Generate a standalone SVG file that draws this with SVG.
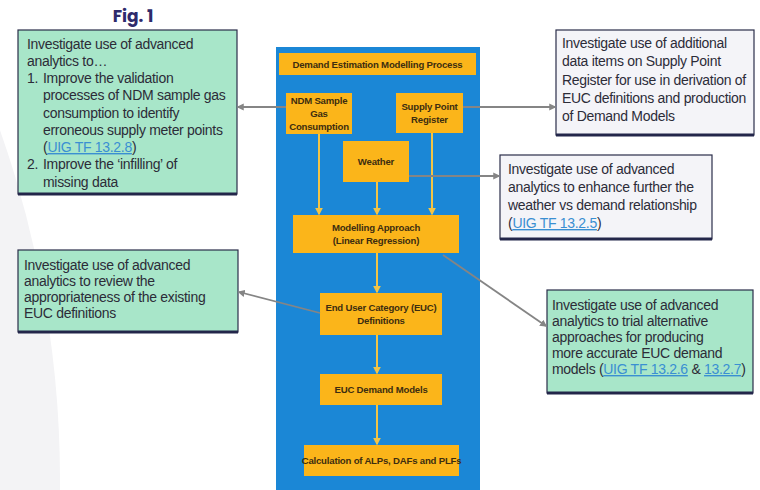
<svg xmlns="http://www.w3.org/2000/svg" width="760" height="490" viewBox="0 0 760 490">
<defs>
<style>
.note{font-family:"Liberation Sans",Arial,sans-serif;font-size:14px;fill:#2c2c38;letter-spacing:-0.3px}
.link{fill:#3a8fd2;text-decoration:underline}
.ob{fill:#fbb51a}
.ot{font-family:"Liberation Sans",Arial,sans-serif;font-size:9.6px;font-weight:bold;fill:#3d2d10;text-anchor:middle;letter-spacing:-0.2px}
.green{fill:#a8e6c9;stroke:#2a2d4a;stroke-width:1.2}
.grey{fill:#f4f4f8;stroke:#2a2d4a;stroke-width:1.2}
.base{stroke:#23264a;stroke-width:3}
.gl{stroke:#858585;stroke-width:1.8;fill:none;marker-end:url(#ga)}
.yl{stroke:#f3c445;stroke-width:2;fill:none;marker-end:url(#ya)}
</style>
<marker id="ga" viewBox="0 0 10 10" refX="8" refY="5" markerWidth="4" markerHeight="4" orient="auto"><path d="M0,0L10,5L0,10z" fill="#858585"/></marker>
<marker id="ya" viewBox="0 0 10 10" refX="8" refY="5" markerWidth="4" markerHeight="4" orient="auto"><path d="M0,0L10,5L0,10z" fill="#f3c445"/></marker>
</defs>
<rect width="760" height="490" fill="#ffffff"/>
<circle cx="-990" cy="480" r="1050" fill="#f3f3f5"/>
<text x="133" y="22" text-anchor="middle" font-family="Poppins,'Liberation Sans',Arial,sans-serif" font-size="17" font-weight="bold" fill="#2f2a6b">Fig. 1</text>

<g id="panel">
<rect x="276" y="47" width="204" height="443" fill="#1b87d6"/>
</g>
<g id="title">
<rect class="ob" x="279" y="53" width="197" height="22"/>
<text class="ot" x="377.5" y="67.5">Demand Estimation Modelling Process</text>
</g>
<g id="ndm">
<rect class="ob" x="286" y="93" width="66" height="41"/>
<text class="ot" x="319" y="104">NDM Sample</text>
<text class="ot" x="319" y="117">Gas</text>
<text class="ot" x="319" y="130">Consumption</text>
</g>
<g id="spr">
<rect class="ob" x="396" y="93" width="67" height="40"/>
<text class="ot" x="429.5" y="110">Supply Point</text>
<text class="ot" x="429.5" y="123">Register</text>
</g>
<g id="weather">
<rect class="ob" x="343" y="141" width="66" height="41"/>
<text class="ot" x="376" y="165">Weather</text>
</g>
<g id="modelling">
<rect class="ob" x="293" y="215" width="166" height="38"/>
<text class="ot" x="376" y="231">Modelling Approach</text>
<text class="ot" x="376" y="244">(Linear Regression)</text>
</g>
<g id="eucdef">
<rect class="ob" x="320" y="293" width="122" height="42"/>
<text class="ot" x="381" y="311">End User Category (EUC)</text>
<text class="ot" x="381" y="324">Definitions</text>
</g>
<g id="eucdm">
<rect class="ob" x="320" y="374" width="122" height="31"/>
<text class="ot" x="381" y="393">EUC Demand Models</text>
</g>
<g id="calc">
<rect class="ob" x="304" y="445" width="155" height="31"/>
<text class="ot" x="381.5" y="464">Calculation of ALPs, DAFs and PLFs</text>
</g>

<g id="note1">
<rect class="green" x="18" y="30" width="219" height="164"/>
<line class="base" x1="18" y1="194" x2="237" y2="194"/>
<text class="note" x="27" y="48.5">Investigate use of advanced</text>
<text class="note" x="27" y="65.8">analytics to…</text>
<text class="note" x="27" y="83">1.</text>
<text class="note" x="43" y="83">Improve the validation</text>
<text class="note" x="43" y="100.3">processes of NDM sample gas</text>
<text class="note" x="43" y="117.5">consumption to identify</text>
<text class="note" x="43" y="134.8">erroneous supply meter points</text>
<text class="note" x="43" y="152">(<tspan class="link">UIG TF 13.2.8</tspan>)</text>
<text class="note" x="27" y="169.3">2.</text>
<text class="note" x="43" y="169.3">Improve the ‘infilling’ of</text>
<text class="note" x="43" y="186.5">missing data</text>
</g>
<g id="note2">
<rect class="grey" x="556" y="30" width="198" height="105"/>
<line class="base" x1="556" y1="135" x2="754" y2="135"/>
<text class="note" x="562" y="48">Investigate use of additional</text>
<text class="note" x="562" y="66.3">data items on Supply Point</text>
<text class="note" x="562" y="84.6">Register for use in derivation of</text>
<text class="note" x="562" y="102.9">EUC definitions and production</text>
<text class="note" x="562" y="121.2">of Demand Models</text>
</g>
<g id="note3">
<rect class="grey" x="500" y="155" width="212" height="84"/>
<line class="base" x1="500" y1="239" x2="712" y2="239"/>
<text class="note" x="508" y="174">Investigate use of advanced</text>
<text class="note" x="508" y="192">analytics to enhance further the</text>
<text class="note" x="508" y="210">weather vs demand relationship</text>
<text class="note" x="508" y="228">(<tspan class="link">UIG TF 13.2.5</tspan>)</text>
</g>
<g id="note4">
<rect class="green" x="18" y="250" width="220" height="82"/>
<line class="base" x1="18" y1="332" x2="238" y2="332"/>
<text class="note" x="24" y="270">Investigate use of advanced</text>
<text class="note" x="24" y="286">analytics to review the</text>
<text class="note" x="24" y="302">appropriateness of the existing</text>
<text class="note" x="24" y="318">EUC definitions</text>
</g>
<g id="note5">
<rect class="green" x="547" y="290" width="206" height="103"/>
<line class="base" x1="547" y1="393" x2="753" y2="393"/>
<text class="note" x="552" y="310">Investigate use of advanced</text>
<text class="note" x="552" y="326">analytics to trial alternative</text>
<text class="note" x="552" y="342">approaches for producing</text>
<text class="note" x="552" y="358">more accurate EUC demand</text>
<text class="note" x="552" y="374">models (<tspan class="link">UIG TF 13.2.6</tspan> &amp; <tspan class="link">13.2.7</tspan>)</text>
</g>

<g id="connectors">
<line class="yl" x1="319" y1="134" x2="319" y2="214"/>
<line class="yl" x1="377" y1="182" x2="377" y2="214"/>
<line class="yl" x1="432" y1="133" x2="432" y2="214"/>
<line class="yl" x1="377" y1="253" x2="377" y2="292"/>
<line class="yl" x1="377" y1="335" x2="377" y2="373"/>
<line class="yl" x1="377" y1="405" x2="377" y2="444"/>
<line class="gl" x1="286" y1="107" x2="238" y2="107"/>
<line class="gl" x1="463" y1="107" x2="555" y2="107"/>
<line class="gl" x1="409" y1="176" x2="499" y2="176"/>
<line class="gl" x1="320" y1="313" x2="239" y2="292"/>
<line class="gl" x1="443" y1="255" x2="546" y2="326"/>
</g>
</svg>
